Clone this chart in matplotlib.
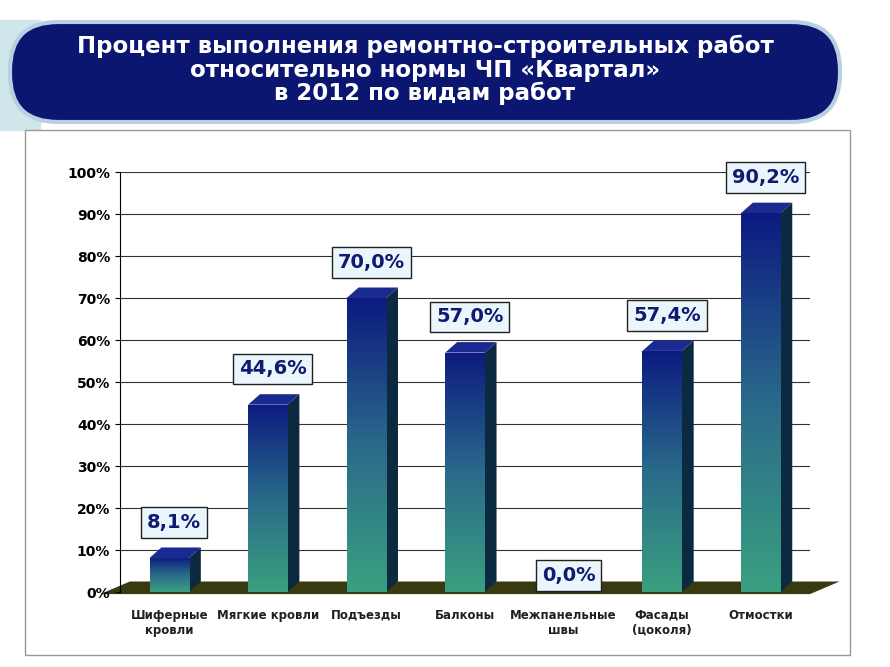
import numpy as np
import matplotlib.pyplot as plt
from matplotlib.patches import FancyBboxPatch, Rectangle, Polygon
from matplotlib.colors import LinearSegmentedColormap

categories = ["Шиферные\nкровли", "Мягкие кровли", "Подъезды", "Балконы",
              "Межпанельные\nшвы", "Фасады\n(цоколя)", "Отмостки"]
values = [8.1, 44.6, 70.0, 57.0, 0.0, 57.4, 90.2]
labels = ["8,1%", "44,6%", "70,0%", "57,0%", "0,0%", "57,4%", "90,2%"]
yticks = [0, 10, 20, 30, 40, 50, 60, 70, 80, 90, 100]

fig = plt.figure(figsize=(8.9, 6.67), dpi=100)

# title box
tax = fig.add_axes([0, 0, 1, 1])
tax.set_xlim(0, 890)
tax.set_ylim(667, 0)
tax.axis("off")
tax.add_patch(Rectangle((0, 20), 40, 110, color="#cfe6ea", zorder=0))
tax.add_patch(FancyBboxPatch((10, 22), 830, 100, boxstyle="round,pad=0,rounding_size=48",
                             fc="#0a1670", ec="#b8d0e0", lw=3, zorder=1))
tax.text(425, 70, "Процент выполнения ремонтно-строительных работ\nотносительно нормы ЧП «Квартал»\nв 2012 по видам работ",
         ha="center", va="center", color="white", fontsize=16.5, fontweight="bold",
         family="DejaVu Sans", linespacing=1.0, zorder=2)
tax.add_patch(Rectangle((25, 130), 825, 525, fc="white", ec="#999999", lw=1, zorder=0.5))

ax = fig.add_axes([120 / 890, 1 - 592 / 667, 690 / 890, 420 / 667])
ax.set_xlim(-0.5, len(values) - 0.5)
ax.set_ylim(0, 100)
ax.patch.set_alpha(0)
for y in yticks[1:]:
    ax.plot([-0.5, len(values) - 0.5], [y, y], color="#333333", lw=0.8, zorder=0)

grad = np.linspace(0, 1, 256).reshape(-1, 1)
cmap = LinearSegmentedColormap.from_list("bg", ["#0c1a80", "#2a6a8a", "#3aa080"])
x = np.arange(len(values))
w = 0.4
# floor
ax.add_patch(Polygon([(-0.7, -0.5), (6.5, -0.5), (6.8, 2.5), (-0.4, 2.5)],
                     closed=True, fc="#3a3a10", clip_on=False, zorder=1))
bars = ax.bar(x, values, width=w, color="none", zorder=3)
for b, v in zip(bars, values):
    if v <= 0:
        continue
    x0 = b.get_x()
    side = Polygon([(x0 + w, 0), (x0 + w + 0.12, 2.5), (x0 + w + 0.12, v + 2.5), (x0 + w, v)],
                   closed=True, fc="#0b2a40", zorder=2)
    ax.add_patch(side)
    top = Polygon([(x0, v), (x0 + 0.12, v + 2.5), (x0 + w + 0.12, v + 2.5), (x0 + w, v)],
                  closed=True, fc="#1a2a90", zorder=2)
    ax.add_patch(top)
    im = ax.imshow(grad, extent=[x0, x0 + w, 0, v], aspect="auto", cmap=cmap, zorder=3)
    im.set_clip_path(b)

for xi, v, t in zip(x, values, labels):
    ly = v + 8.5 if v > 0 else 4
    ax.text(xi + 0.05, ly, t, ha="center", va="center", fontsize=14, fontweight="bold",
            color="#101a70", zorder=5,
            bbox=dict(boxstyle="square,pad=0.3", fc="#eaf6fb", ec="#202020", lw=1))

ax.set_yticks(yticks)
ax.set_yticklabels([f"{t}%" for t in yticks], fontsize=10, fontweight="bold")
ax.set_xticks(x)
ax.set_xticklabels(categories, fontsize=8.5, fontweight="bold", color="#202020")
ax.tick_params(axis="x", length=0, pad=12)
for s in ["top", "right", "bottom"]:
    ax.spines[s].set_visible(False)

fig.savefig("out.png", dpi=100)
